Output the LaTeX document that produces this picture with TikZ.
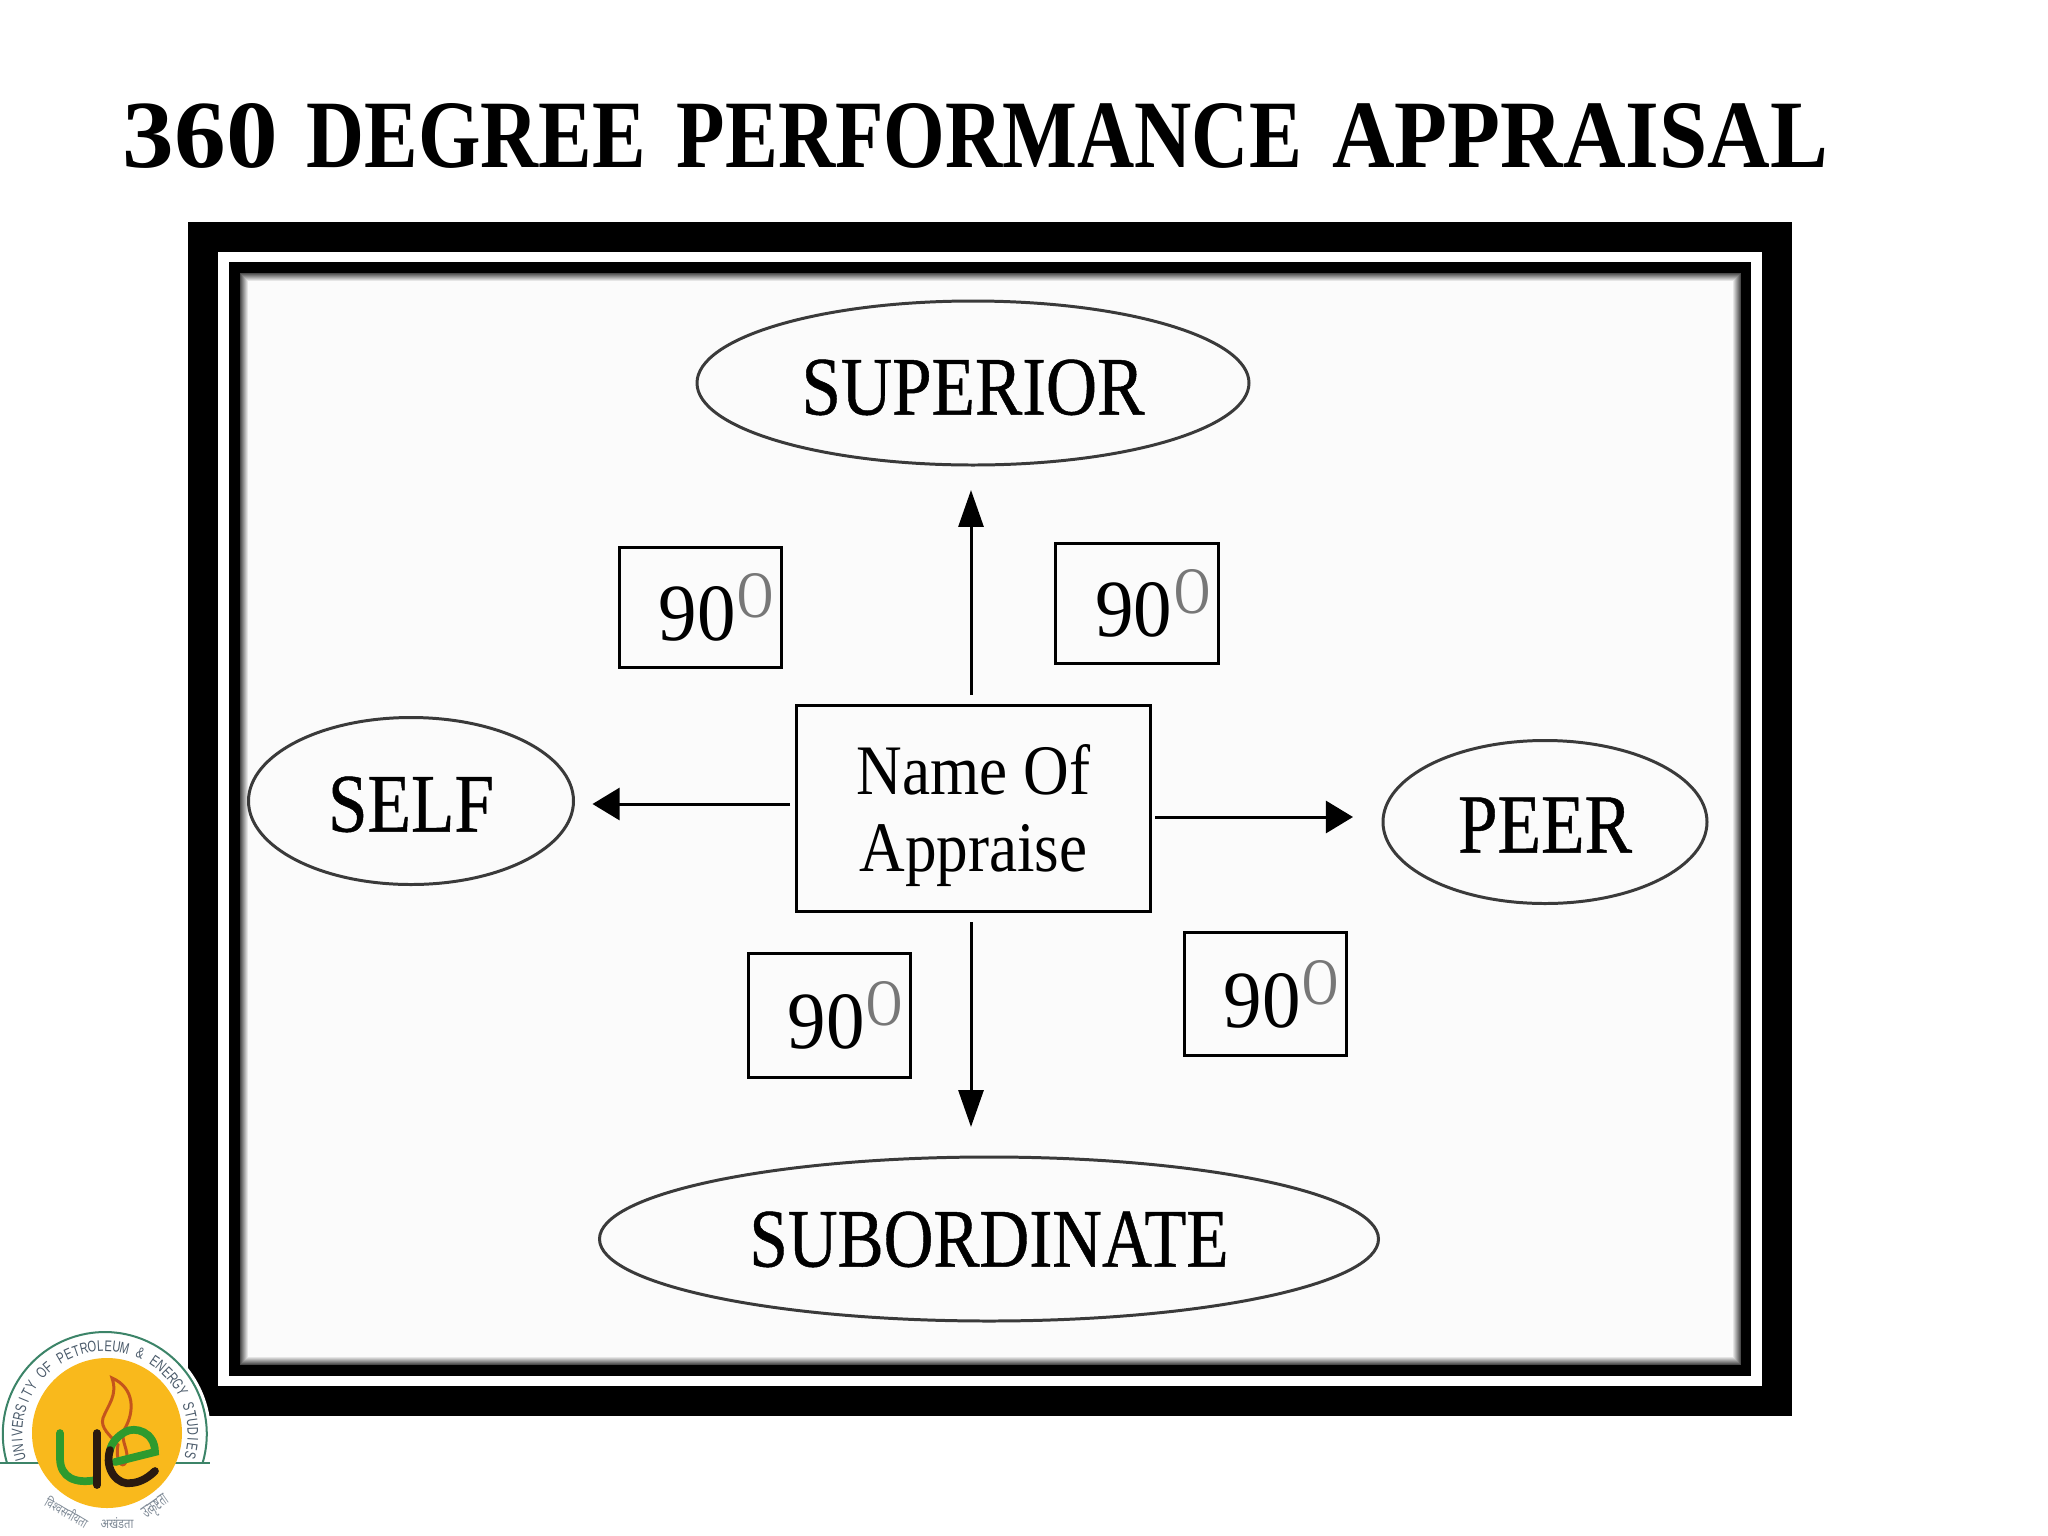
\documentclass[tikz,border=0pt]{standalone}
\usepackage{fontspec}
\usepackage{graphicx}
\usetikzlibrary{shapes.geometric,arrows.meta}
\setmainfont{Liberation Serif}
\newfontfamily\logofont{Liberation Sans}
\newfontfamily\ovalfont[FakeBold=0.6]{Liberation Serif}
\newfontfamily\hindifont[Script=Devanagari]{Noto Sans}
\newdimen\pxu \pxu=0.01cm
\newcommand{\fitbox}[3]{\resizebox{#1\pxu}{#2\pxu}{#3}}
\newcommand{\ovaltext}[4]{\raisebox{#1\pxu}[#3\pxu][0pt]{\fitbox{#2}{#3}{\ovalfont #4}}}
\newcommand{\ninety}{\hspace{31\pxu}\fitbox{77}{54}{90}\hspace{2\pxu}\raisebox{23\pxu}{\fitbox{36}{44}{\color{oring}O}}}
\definecolor{oring}{HTML}{777777}
\definecolor{panel}{HTML}{FBFBFB}
\definecolor{ellline}{HTML}{3A3A3A}
\definecolor{logoyellow}{HTML}{F9B91C}
\definecolor{logoteal}{HTML}{3C8468}
\definecolor{logogreen}{HTML}{2E9A2E}
\definecolor{logodark}{HTML}{2A1A10}
\definecolor{logoflame}{HTML}{C4541C}
\definecolor{logotext}{HTML}{4A5A6A}
\tikzset{
  x=0.01cm,y=-0.01cm,
  labelbox/.style={draw=black,line width=0.91pt,inner sep=0pt,outer sep=0pt,fill=panel},
  oval/.style={ellipse,draw=ellline,line width=0.85pt,inner sep=0pt,outer sep=0pt},
  conn/.style={draw=black,line width=0.85pt},
  headv/.style={-{Triangle[length=10.5pt,width=7.1pt]}},
  headh/.style={-{Triangle[length=7.7pt,width=9.1pt]}},
  logostroke/.style={line width=2.2pt,line cap=round,fill=none},
  logoletter/.style={inner sep=0pt,text=logotext,font=\logofont\fontsize{4.4pt}{5pt}\selectfont},
  logomotto/.style={inner sep=0pt,text=logotext!70!white,font=\hindifont\fontsize{4pt}{5pt}\selectfont},
}
\begin{document}
\begin{tikzpicture}
\useasboundingbox (0,0) rectangle (2048,1536);
\fill[white] (0,0) rectangle (2048,1536);
% title
\node (title) at (975.5,136) [inner sep=0pt] {\bfseries\fitbox{155}{64}{360}\hspace{29\pxu}\fitbox{339}{64}{DEGREE}\hspace{31\pxu}\fitbox{625}{64}{PERFORMANCE}\hspace{30\pxu}\fitbox{496}{64}{APPRAISAL}};
% frame
\fill[black] (188,222) rectangle (1792,1416);
\fill[white] (218,252) rectangle (1762,1386);
\fill[black] (229,262) rectangle (1751,1376);
\foreach \i in {0,...,8}{
  \pgfmathsetmacro{\mixval}{70-8.75*\i}
  \fill[black!\mixval!panel] ({239.5+\i},{273+\i}) rectangle ({1740.5-\i},{1365-\i});
}
% ovals
\node[oval,minimum width=552\pxu,minimum height=164\pxu] (superior) at (973,383) {\ovaltext{-4}{343}{55}{SUPERIOR}};
\node[oval,minimum width=325\pxu,minimum height=167\pxu] (self) at (411,801) {\ovaltext{-3}{166}{55}{SELF}};
\node[oval,minimum width=324\pxu,minimum height=163\pxu] (peer) at (1545,822) {\ovaltext{-3}{174}{55}{PEER}};
\node[oval,minimum width=779\pxu,minimum height=164\pxu] (subordinate) at (989,1239) {\ovaltext{0}{479}{55}{SUBORDINATE}};
% centre
\node[labelbox,minimum width=354\pxu,minimum height=206\pxu] (centre) at (973.5,808.5) {\raisebox{-9\pxu}[\height][\depth]{\scalebox{.89}[1]{\fontsize{20.2pt}{21.9pt}\selectfont\begin{tabular}{@{}c@{}}Name Of\\Appraise\end{tabular}}}};
% 90 boxes
\node[labelbox,minimum width=162\pxu,minimum height=120\pxu] (boxa) at (700.5,607.5) {\ninety};
\node[labelbox,minimum width=163\pxu,minimum height=120\pxu] (boxb) at (1137,603.5) {\ninety};
\node[labelbox,minimum width=162\pxu,minimum height=124\pxu] (boxc) at (829.5,1015.5) {\ninety};
\node[labelbox,minimum width=162\pxu,minimum height=123\pxu] (boxd) at (1265.5,994) {\ninety};
% connectors
\draw[conn,headv,shorten <=10.5\pxu,shorten >=25\pxu] ([xshift=-2.5\pxu]centre.north) -- ([xshift=-2\pxu]superior.south);
\draw[conn,headv,shorten <=10.5\pxu,shorten >=30\pxu] ([xshift=-2.5\pxu]centre.south) -- ([xshift=-18\pxu]subordinate.north);
\draw[conn,headh,shorten <=6.5\pxu,shorten >=19\pxu] ([yshift=4.5\pxu]centre.west) -- ([yshift=-3\pxu]self.east);
\draw[conn,headh,shorten <=4.5\pxu,shorten >=30\pxu] ([yshift=-8.5\pxu]centre.east) -- ([yshift=5\pxu]peer.west);
% logo
\fill[white] (105,1434) circle[radius=106\pxu];
\draw[logoteal,line width=0.57pt] (7,1463) arc[start angle=196.5,end angle=-16.5,radius=102\pxu];
\draw[logoteal,line width=0.57pt] (0,1463) -- (55,1463) (157,1463) -- (210,1463);
\fill[logoyellow] (107,1433) circle[radius=75\pxu];
\foreach \c [count=\n] in {U,N,I,V,E,R,S,I,T,Y,{},O,F,{},P,E,T,R,O,L,E,U,M,{},\&,{},E,N,E,R,G,Y,{},S,T,U,D,I,E,S}{
  \pgfmathsetmacro{\ang}{195-(\n-1)*5.36}
  \node[logoletter,rotate=\ang-90] (lt\n) at ({105+88*cos(\ang)},{1434-88*sin(\ang)}) {\scalebox{.72}[1]{\c}};
}
\node[logomotto,rotate=-30] (mottoa) at (67,1512) {\fitbox{47}{12}{विश्वसनीयता}};
\node[logomotto] (mottob) at (117,1523) {\fitbox{33}{11}{अखंडता}};
\node[logomotto,rotate=35] (mottoc) at (156,1508) {\fitbox{28}{11}{उत्कृष्टता}};
% flame
\draw[logoflame,line width=0.85pt,fill=none] (112,1378) .. controls (135,1388) and (135,1412) .. (124,1430)
  .. controls (120,1442) and (130,1450) .. (126,1462) .. controls (122,1470) and (115,1460) .. (118,1445)
  .. controls (110,1435) and (100,1428) .. (103,1418) .. controls (108,1405) and (118,1395) .. (112,1378) -- cycle;
% u
\draw[logogreen,logostroke] (60,1433) -- (60,1458) .. controls (60,1478) and (76,1484) .. (96,1480);
\draw[logodark,logostroke] (97,1433) -- (97,1485);
% e
\draw[logogreen,logostroke] (115,1462) -- (155,1452) .. controls (155,1432) and (135,1426) .. (125,1432) .. controls (118,1436) and (112,1442) .. (110,1450);
\draw[logodark,logostroke] (110,1450) .. controls (104,1470) and (118,1486) .. (132,1483) .. controls (142,1482) and (150,1476) .. (155,1471);
\end{tikzpicture}
\end{document}
